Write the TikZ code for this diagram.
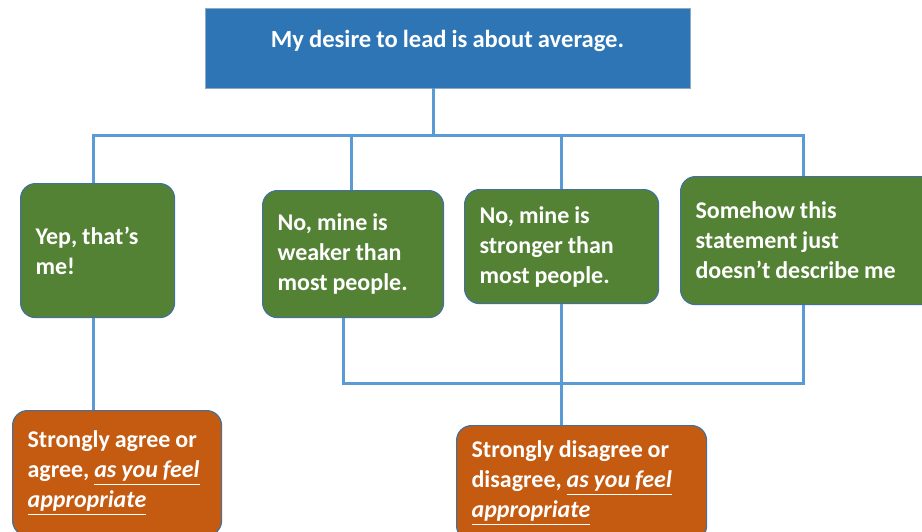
\documentclass[tikz,border=0pt]{standalone}
\usepackage{fontspec}
\setmainfont{Carlito}[WordSpace=0.9]
\frenchspacing

\definecolor{headblue}{HTML}{2E75B6}
\definecolor{lineblue}{HTML}{5B9BD5}
\definecolor{edgeblue}{HTML}{41719C}
\definecolor{answergreen}{HTML}{548235}
\definecolor{scoreorange}{HTML}{C55A11}

\begin{document}
\begin{tikzpicture}[x=0.5pt, y=-0.5pt,
    every node/.style={font=\fontsize{12}{15}\selectfont\bfseries, text=white},
    link/.style={draw=lineblue, line width=1.5pt},
    answer/.style={draw=edgeblue, line width=0.6pt, fill=answergreen,
      rounded corners=7.5pt, inner xsep=7.5pt, inner ysep=0pt,
      align=flush left, anchor=north west},
    score/.style={answer, fill=scoreorange}]

\clip (0,0) rectangle (922,531);

% Statement
\node[draw=edgeblue!60, fill=headblue, minimum width=242.5pt,
  font=\fontsize{12.3}{15}\selectfont\bfseries,
  inner ysep=0pt, text height=19.5pt, text depth=20.5pt, anchor=base]
  (stmt) at (447.5,47) {My desire to lead is about average.};

% Answers
\node[answer, text width=62pt, minimum height=67pt] (yep) at (20,183)
  {Yep, that’s\\me!};
\node[answer, text width=75.5pt, minimum height=63.5pt] (weak) at (262,190)
  {No, mine is\\weaker than\\most people.};
\node[answer, text width=82pt, minimum height=57pt] (strong) at (464,189)
  {No, mine is\\stronger than\\most people.};
\node[answer, text width=112.5pt, minimum height=64pt] (odd) at (680,176)
  {Somehow this\\statement just\\doesn’t describe me};

% Scoring
\node[score, text width=89.5pt, minimum height=62.5pt] (agree) at (12,410)
  {Strongly agree or\\agree,~\underline{\itshape as you feel}\\\underline{\itshape appropriate}};
\node[score, text width=110pt, minimum height=57.5pt] (disagree) at (456,425)
  {Strongly disagree or\\disagree,~\underline{\itshape as you feel}\\\underline{\itshape appropriate}};

% Connectors
\coordinate (hub) at (433,135);
\coordinate (low) at (561,383);
\draw[link] (hub |- stmt.south) -- (hub);
\draw[link] (yep.north -| 93,0) |- (hub) -| (odd.north -| 803,0);
\draw[link] (weak.north -| 351,0) -- (hub -| 351,0);
\draw[link] (strong.north) -- (strong.north |- hub);
\draw[link] (yep.south -| 93,0) -- (agree.north -| 93,0);
\draw[link] (weak.south -| 343,0) |- (low) -| (odd.south -| 803,0);
\draw[link] (strong.south) -- (disagree.north -| strong.south);

\end{tikzpicture}
\end{document}
